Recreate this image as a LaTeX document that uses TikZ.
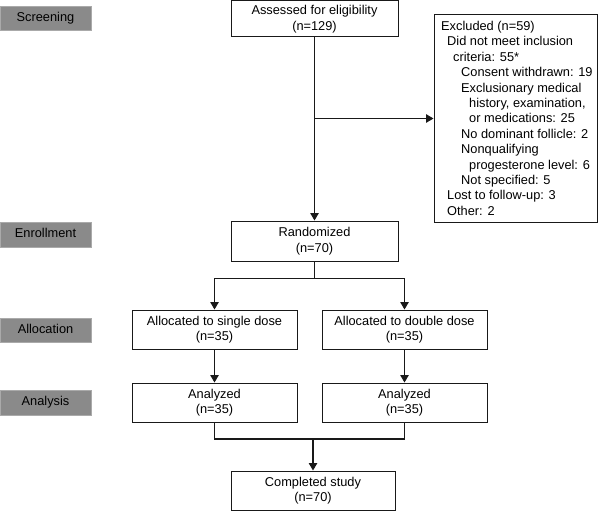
\documentclass[tikz,border=0pt]{standalone}
\usepackage{fontspec}
\setmainfont{Liberation Sans}
\usetikzlibrary{arrows.meta}
\definecolor{lblfill}{RGB}{138,138,138}
\definecolor{lbldraw}{RGB}{170,170,170}
\definecolor{lineclr}{RGB}{25,25,25}
\begin{document}
\begin{tikzpicture}[x=1pt,y=-1pt,
  every node/.style={font=\fontsize{12.8}{15.4}\selectfont},
  stage/.style={draw=lbldraw, fill=lblfill, line width=0.8pt, inner sep=0, minimum width=91pt, text height=9.2pt, text depth=2.7pt},
  flowbox/.style={draw=lineclr, line width=1pt, align=center, inner sep=0},
  conn/.style={line width=1.1pt, draw=lineclr},
  arr/.style={conn, -{Triangle[length=7.5pt,width=8.5pt]}},
  exline/.style={anchor=base west, inner sep=0}
]
\useasboundingbox (0,0) rectangle (600,511);

% stage labels
\node[stage, minimum height=24pt] (screening) at (45.5,18) {Screening};
\node[stage, minimum height=25pt] (enrollment) at (45.5,234.5) {Enrollment};
\node[stage, minimum height=24pt] (allocation) at (45.5,330) {Allocation};
\node[stage, minimum height=25pt] (analysis) at (45.5,402.5) {Analysis};

% flow boxes
\node[flowbox, minimum width=167pt, minimum height=36pt] (assess) at (314.5,19) {Assessed for eligibility\\(n=129)};
\node[flowbox, minimum width=163pt, minimum height=207pt] (excl) at (515.5,118.5) {};
\node[flowbox, minimum width=167pt, minimum height=40pt] (rand) at (314.5,241) {Randomized\\(n=70)};
\node[flowbox, minimum width=165pt, minimum height=39pt] (single) at (214.5,329.5) {Allocated to single dose\\(n=35)};
\node[flowbox, minimum width=165pt, minimum height=39pt] (double) at (404.5,329.5) {Allocated to double dose\\(n=35)};
\node[flowbox, minimum width=165pt, minimum height=39pt] (anaS) at (214.5,402.5) {Analyzed\\(n=35)};
\node[flowbox, minimum width=165pt, minimum height=39pt] (anaD) at (404.5,402.5) {Analyzed\\(n=35)};
\node[flowbox, minimum width=164pt, minimum height=39pt] (compl) at (313,490.5) {Completed study\\(n=70)};

% excluded text
\foreach \i/\dx/\t in {
  0/441/{Excluded (n=59)},
  1/447/{Did not meet inclusion},
  2/453/{criteria: 55*},
  3/461/{Consent withdrawn: 19},
  4/461/{Exclusionary medical},
  5/469/{history, examination,},
  6/469/{or medications: 25},
  7/461/{No dominant follicle: 2},
  8/461/{Nonqualifying},
  9/469/{progesterone level: 6},
  10/461/{Not specified: 5},
  11/447/{Lost to follow-up: 3},
  12/447/{Other: 2}}
  \node[exline] (ex\i) at (\dx, 30.5+15.4*\i) {\t};

% connectors
\draw[arr] (assess.south) -- (rand.north);
\draw[arr] (assess.south |- excl.west) -- (excl.west);
\draw[conn] (rand.south) -- ++(0,17) coordinate (split);
\draw[arr] (split) -| (single.north);
\draw[arr] (split) -| (double.north);
\draw[arr] (single.south) -- (anaS.north);
\draw[arr] (double.south) -- (anaD.north);
\coordinate (merge) at (313,439);
\draw[conn] (anaS.south) |- (merge);
\draw[conn] (anaD.south) |- (merge);
\draw[arr] (merge) -- (compl.north);
\end{tikzpicture}
\end{document}
